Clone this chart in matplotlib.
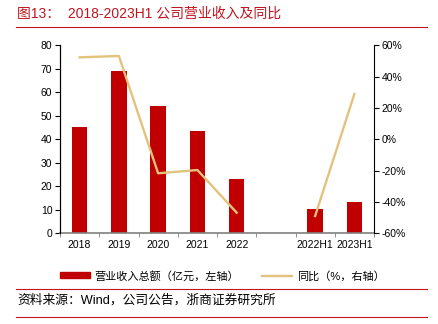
import numpy as np
import matplotlib
matplotlib.use("Agg")
import matplotlib.pyplot as plt
from matplotlib.lines import Line2D
from matplotlib.patches import Patch

plt.rcParams['font.family'] = ['Liberation Sans', 'Noto Sans CJK SC', 'DejaVu Sans']
plt.rcParams['axes.unicode_minus'] = False

categories = ["2018", "2019", "2020", "2021", "2022", "", "2022H1", "2023H1"]
revenue = [45.1, 68.9, 54.2, 43.7, 23.1, np.nan, 10.2, 13.2]
yoy = [52.3, 53.2, -21.7, -19.6, -46.8, np.nan, -49.0, 28.9]

bar_color = "#C00000"
line_color = "#E3C27C"
red = "#C0141E"

fig = plt.figure(figsize=(4.38, 3.24), dpi=100)
W, H = 438, 324
ax = fig.add_axes([60 / W, 1 - 233.3 / H, (374 - 60) / W, (233.3 - 45.3) / H])
ax2 = ax.twinx()

x = np.arange(len(categories))
ax.bar(x, revenue, width=0.4, color=bar_color, zorder=2)
ax2.plot(x[:5], yoy[:5], color=line_color, lw=1.7, zorder=3)
ax2.plot(x[6:], yoy[6:], color=line_color, lw=1.7, zorder=3)

ax.set_xlim(-0.5, len(categories) - 0.5)
ax.set_ylim(0, 80)
ax.set_yticks(range(0, 81, 10))
ax2.set_ylim(-60, 60)
ax2.set_yticks(range(-60, 61, 20))
ax2.set_yticklabels([f"{v}%" for v in range(-60, 61, 20)])

ax.set_xticks(x)
ax.set_xticklabels(categories)
ax.set_xticks(np.arange(-0.5, len(categories), 1), minor=True)
ax.tick_params(axis='x', which='major', length=0, labelsize=7.5, pad=5)
ax.tick_params(axis='x', which='minor', length=3, color="#808080", direction='out')
ax.tick_params(axis='y', labelsize=7.5, length=3.5, direction='out', pad=2)
ax2.tick_params(axis='y', labelsize=7.5, length=3.5, direction='out', pad=2)

for a in (ax, ax2):
    a.spines['top'].set_visible(False)
ax.spines['right'].set_visible(False)
ax.spines['bottom'].set_color("#808080")
ax.spines['bottom'].set_linewidth(1.2)
ax2.spines['bottom'].set_visible(False)
ax.spines['left'].set_linewidth(0.8)
ax2.spines['right'].set_linewidth(0.8)

# Title
fig.text(17 / W, 1 - 14 / H, "图13：  2018-2023H1 公司营业收入及同比", color=red,
         fontsize=10, va='center', ha='left')
fig.add_artist(Line2D([16 / W, 427 / W], [1 - 27 / H, 1 - 27 / H], color=red, lw=0.8))

# Legend
handles = [Patch(color=bar_color), Line2D([0], [0], color=line_color, lw=1.7)]
labels = ["营业收入总额（亿元，左轴）", "同比（%，右轴）"]
fig.legend(handles, labels, loc='center', bbox_to_anchor=(222 / W, 1 - 276 / H),
           ncol=2, frameon=False, fontsize=8, handlelength=2.7, handleheight=0.45,
           columnspacing=2.0, handletextpad=0.45, borderpad=0.2)

fig.add_artist(Line2D([16 / W, 427 / W], [1 - 288.5 / H, 1 - 288.5 / H], color=red, lw=0.8))
fig.text(17 / W, 1 - 300 / H, "资料来源：Wind，公司公告，浙商证券研究所", fontsize=9.2,
         va='center', ha='left', color="#000000")
fig.add_artist(Line2D([16 / W, 427 / W], [1 - 317 / H, 1 - 317 / H], color=red, lw=0.8))

fig.savefig("out.png", dpi=100)
